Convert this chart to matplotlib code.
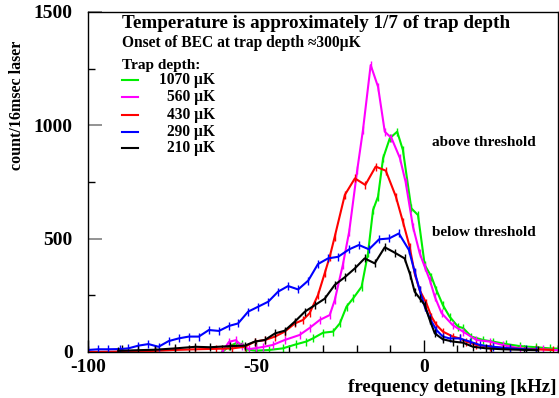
import matplotlib
matplotlib.use("Agg")
import matplotlib.pyplot as plt
from matplotlib.ticker import MultipleLocator

plt.rcParams['font.family'] = ['Liberation Serif', 'DejaVu Serif']
plt.rcParams['font.weight'] = 'bold'
plt.rcParams['axes.unicode_minus'] = False

# --- data (kHz, counts) ---
x_1070 = [-60, -58, -56, -54, -53, -50, -46, -42, -38, -35, -33, -30, -27, -25, -23, -21,
          -18.5, -16.6, -15.1, -13.6, -12.1, -10.1, -7.9, -6.2, -3.7, -1.7, 0.3, 2.3, 3.8,
          5.7, 7.7, 10.2, 11.7, 14.2, 17.7, 20.6, 24.6, 28.6, 33.5, 37.5, 40]
y_1070 = [0, 25, 38, 35, 12, 6, 9, 16, 34, 46, 60, 85, 90, 126, 200, 237,
          288, 435, 626, 686, 855, 943, 972, 891, 634, 604, 384, 332, 273,
          207, 156, 112, 106, 68, 53, 46, 35, 26, 21, 16, 15]

x_560 = [-60, -58, -56, -54, -52, -50, -48, -45, -41.4, -37, -34, -31, -28, -26.5, -24.1,
         -22.2, -19.8, -18.1, -15.8, -13.6, -11.6, -9.6, -7.1, -5.4, -3.2, -1.2, 0.3, 1.8,
         3.3, 5.3, 8.6, 11.7, 15.7, 19.6, 23.5, 28.6, 35.4, 40]
y_560 = [0, 45, 52, 25, 13, 17, 22, 31, 53, 75, 106, 141, 163, 229, 384,
         531, 803, 979, 1266, 1170, 972, 944, 856, 751, 553, 436, 376, 318,
         244, 172, 119, 90, 53, 46, 31, 16, 12, 8]

x_430 = [-100, -90, -80, -74, -68, -62, -57, -53.3, -50.3, -47.3, -44.3, -41.4, -38.4, -36,
         -34, -31.5, -29.5, -28, -26.5, -23.5, -20.5, -17.4, -14.3, -11.3, -8.3, -6.2, -4.2,
         -2.7, -1.2, 0.8, 2.3, 3.8, 5.7, 8.7, 10.7, 12.7, 15.7, 19.6, 25.6, 33.5, 38.4]
y_430 = [0, 2, 5, 9, 12, 14, 16, 23, 46, 53, 68, 90, 126, 141,
         171, 251, 347, 420, 509, 693, 766, 737, 818, 800, 686, 575, 465,
         347, 273, 215, 156, 119, 90, 68, 60, 46, 31, 23, 16, 12, 9]

x_290 = [-100, -97, -94, -90.5, -88, -85, -82, -79, -76, -73, -70, -67, -64, -61, -58, -55.3,
         -52.3, -49.3, -46.3, -43.4, -40.4, -37.4, -34.4, -31.5, -28.5, -25.5, -22.2, -19.3,
         -16.3, -13.3, -10.3, -7.4, -4.4, -2.7, -1.2, 0.3, 1.8, 3.8, 5.7, 7.7, 10.7, 13.7,
         16.7, 20.6, 25.6, 30.6, 33.5]
y_290 = [9, 12, 12, 13, 16, 28, 35, 23, 48, 60, 68, 68, 97, 93, 115, 126,
         178, 200, 222, 266, 291, 276, 315, 388, 413, 420, 453, 472,
         453, 497, 501, 523, 450, 354, 273, 200, 148, 97, 68, 60, 60, 46,
         31, 23, 16, 12, 10]

x_210 = [-91, -85, -80, -74, -68, -63.7, -57.7, -53.3, -50.3, -47.3, -44.3, -41.4, -38.4,
         -35.4, -32.4, -29.5, -26.5, -23.5, -20.5, -17.6, -14.6, -11.6, -8.6, -5.7, -4.0,
         -2.7, -1.2, 0.3, 1.8, 3.3, 5.7, 8.7, 11.7, 14.7, 18.7, 23.6, 30.6, 34]
y_210 = [5, 8, 10, 16, 23, 21, 26, 28, 46, 53, 82, 94, 134,
         178, 207, 235, 296, 330, 369, 413, 391, 462, 438, 413, 340,
         266, 237, 207, 141, 82, 56, 46, 41, 23, 16, 12, 9, 8]

labels = ["1070 \u00b5K", "560 \u00b5K", "430 \u00b5K", "290 \u00b5K", "210 \u00b5K"]
colors = ["#00ee00", "#ff00ff", "#ff0000", "#0000ff", "black"]
series = [(x_1070, y_1070), (x_560, y_560), (x_430, y_430), (x_290, y_290), (x_210, y_210)]

fig = plt.figure(figsize=(5.59, 3.98), dpi=100)
ax = fig.add_axes([88 / 559, 46 / 398, 470 / 559, 340 / 398])

for (xs, ys), c in zip(series, colors):
    ax.plot(xs, ys, color=c, lw=1.5, marker='|', ms=6, mew=1)

ax.set_xlim(-100, 40)
ax.set_ylim(0, 1500)
ax.xaxis.set_major_locator(MultipleLocator(50))
ax.xaxis.set_minor_locator(MultipleLocator(10))
ax.yaxis.set_major_locator(MultipleLocator(500))
ax.yaxis.set_minor_locator(MultipleLocator(250))
ax.tick_params(which='both', direction='in', top=False, right=False)
ax.tick_params(axis='y', which='major', length=10, width=1.2, color='gray', pad=11, labelsize=14)
ax.tick_params(axis='x', which='major', length=9, width=1, pad=5, labelsize=14)
ax.tick_params(which='minor', length=5, width=1)
for lab in ax.get_xticklabels() + ax.get_yticklabels():
    lab.set_fontweight('bold')
for s in ax.spines.values():
    s.set_linewidth(1)

# legend drawn by hand: short sample lines, right-aligned labels
ax.text(0.0723, 0.844, "Trap depth:", transform=ax.transAxes, fontsize=11, va='center',
        ha='left')
rows = [0.800, 0.749, 0.698, 0.648, 0.599]
for yy, c, lab in zip(rows, colors, labels):
    ax.plot([0.0723, 0.106], [yy, yy], color=c, lw=1.5, transform=ax.transAxes)
    ax.text(0.270, yy, lab, transform=ax.transAxes, fontsize=11.2, va='center', ha='right')

ax.text(0.0723, 0.965, "Temperature is approximately 1/7 of trap depth", transform=ax.transAxes,
        fontsize=13.8, va='center', ha='left')
ax.text(0.0723, 0.910, "Onset of BEC at trap depth \u2248300\u00b5K", transform=ax.transAxes,
        fontsize=11.2, va='center', ha='left')
ax.text(0.731, 0.615, "above threshold", transform=ax.transAxes, fontsize=11, va='center')
ax.text(0.731, 0.350, "below threshold", transform=ax.transAxes, fontsize=11, va='center')

fig.text(17 / 559, 1 - 105 / 398, "count/16msec laser", rotation=90, ha='center', va='center',
         fontsize=11.5)
fig.text(557 / 559, 1 - 388 / 398, "frequency detuning [kHz]", ha='right', va='center',
         fontsize=13.7)

fig.savefig("out.png", dpi=100)
